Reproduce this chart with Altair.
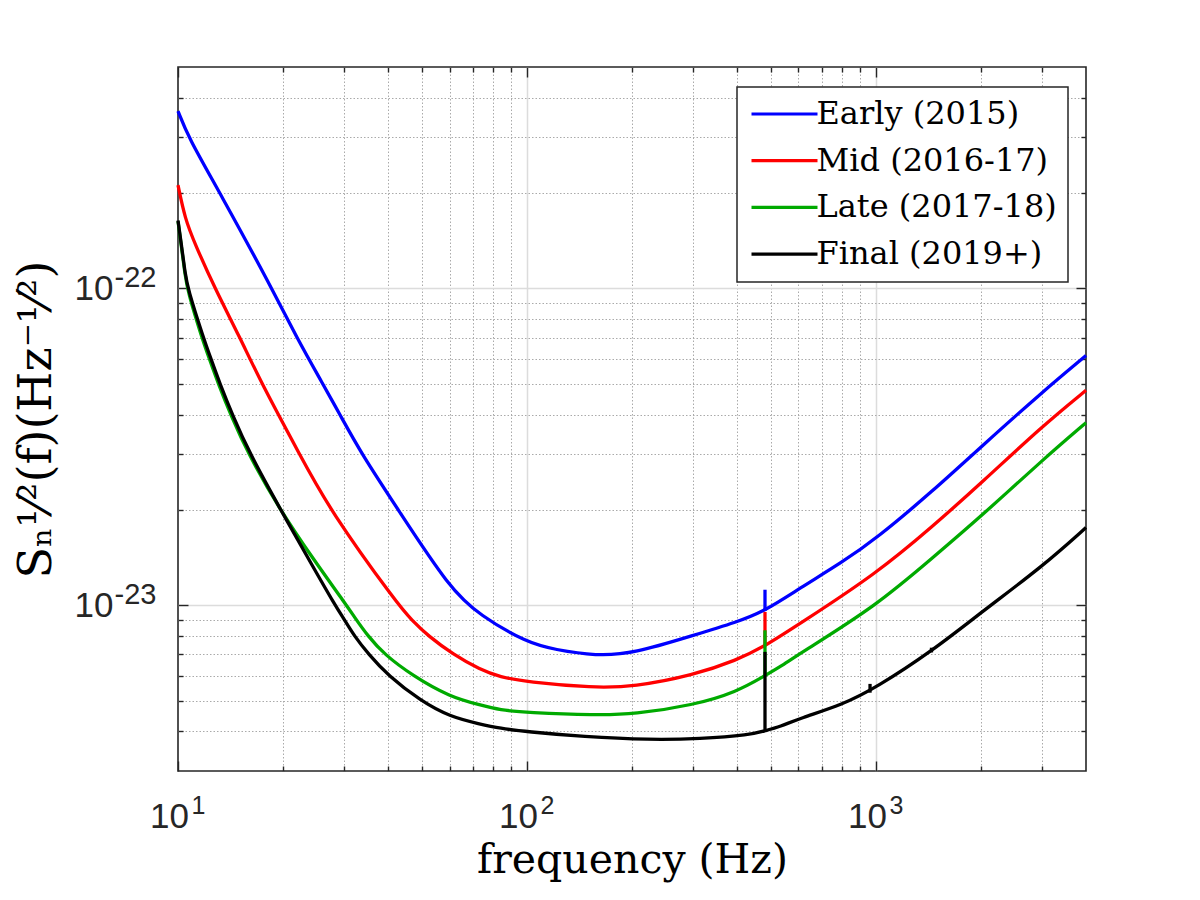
import math
import altair as alt
import pandas as pd

series_names = ["Early (2015)", "Mid (2016-17)", "Late (2017-18)", "Final (2019+)"]
series_colors = ["#0000FF", "#FF0000", "#00AA00", "#000000"]

early_f = [10, 10.7, 13.2, 18.6, 21.86, 26.0, 29.1, 33.6, 42.8, 60.1, 73.3, 100, 120, 158, 202,
           300, 399, 481, 605, 800, 1000, 1459, 2010, 3017, 4000]
early_s = [3.63e-22, 3.0e-22, 2.0e-22, 1.0e-22, 7.0e-23, 5.0e-23, 4.0e-23, 3.0e-23, 2.0e-23, 1.13e-23,
           9.29e-24, 7.62e-24, 7.25e-24, 6.92e-24, 7.04e-24,
           8.04e-24, 8.85e-24, 9.6e-24, 1.132e-23, 1.367e-23, 1.62e-23, 2.30e-23, 3.18e-23, 4.74e-23, 6.14e-23]

mid_f = [10, 10.47, 11.19, 12.76, 15.05, 17.37, 22.3, 27.2, 42.8, 46.7, 52.1, 61.5, 73.3, 83.7, 100,
         155, 202, 300, 399, 481, 605, 1000, 1459, 2010, 3017, 4000]
mid_s = [2.12e-22, 1.66e-22, 1.38e-22, 1.0e-22, 7.0e-23, 5.0e-23, 3.0e-23, 2.0e-23, 1.0e-23, 9.0e-24,
         8.0e-24, 7.0e-24, 6.27e-24, 5.94e-24, 5.73e-24,
         5.49e-24, 5.53e-24, 6.02e-24, 6.71e-24, 7.43e-24, 8.75e-24, 1.256e-23, 1.78e-23, 2.44e-23, 3.70e-23,
         4.77e-23]

late_f = [10, 10.25, 10.47, 10.66, 11.7, 12.3, 13.05, 14.15, 15.9, 19.6, 24.4, 30.4, 32.0, 35.0, 39.0, 47.0,
          60.1, 73.3, 83.7, 100, 158, 202, 300, 399, 481, 531, 605, 1000, 1459, 2010, 3017, 4000]
late_s = [1.63e-22, 1.33e-22, 1.11e-22, 0.98e-22, 7.0e-23, 6.0e-23, 5.0e-23, 4.0e-23, 3.0e-23, 2.0e-23,
          1.40e-23, 1.0e-23, 9.2e-24, 8.0e-24, 7.0e-24, 6.0e-24,
          5.14e-24, 4.85e-24, 4.67e-24, 4.59e-24, 4.50e-24, 4.53e-24, 4.84e-24, 5.33e-24, 6.0e-24, 6.39e-24,
          7.04e-24, 9.94e-24, 1.417e-23, 1.916e-23, 2.89e-23, 3.77e-23]

final_f = [10, 10.25, 10.47, 10.66, 11.82, 12.43, 13.19, 14.31, 16.08, 19.6, 24.4, 28.2, 30.0, 32.0, 35.2, 40.0,
           49.5, 60.1, 73.3, 83.7, 100, 145, 225, 313, 436, 481, 531, 605, 800, 1000, 1459, 2010, 3017, 4000]
final_s = [1.64e-22, 1.35e-22, 1.127e-22, 1.0e-22, 7.0e-23, 6.0e-23, 5.0e-23, 4.0e-23, 3.0e-23, 2.02e-23,
           1.32e-23, 1.0e-23, 9.0e-24, 8.0e-24, 7.0e-24, 6.0e-24,
           5.0e-24, 4.45e-24, 4.22e-24, 4.09e-24, 3.99e-24, 3.85e-24, 3.76e-24, 3.79e-24, 3.90e-24, 4.02e-24,
           4.14e-24, 4.40e-24, 4.85e-24, 5.49e-24, 7.21e-24, 9.53e-24, 1.333e-23, 1.76e-23]

# narrow spectral lines (violin mode and harmonics)
spike_series = ["Early (2015)", "Mid (2016-17)", "Late (2017-18)", "Final (2019+)", "Final (2019+)",
                "Final (2019+)"]
spike_f = [481, 481, 481, 481, 962, 1443]
spike_lo = [9.6e-24, 7.43e-24, 6.0e-24, 4.02e-24, 5.3e-24, 7.1e-24]
spike_hi = [1.12e-23, 9.53e-24, 8.34e-24, 7.13e-24, 5.65e-24, 7.35e-24]

x_major = [10, 100, 1000]
x_major_base = ["10", "10", "10"]
x_major_exp = ["1", "2", "3"]
x_minor = [20, 30, 40, 50, 60, 70, 80, 90, 200, 300, 400, 500, 600, 700, 800, 900, 2000, 3000]
y_major = [1e-23, 1e-22]
y_major_base = ["10", "10"]
y_major_exp = ["-23", "-22"]
y_minor = [4e-24, 5e-24, 6e-24, 7e-24, 8e-24, 9e-24,
           2e-23, 3e-23, 4e-23, 5e-23, 6e-23, 7e-23, 8e-23, 9e-23,
           2e-22, 3e-22, 4e-22]

rows = []
for name, fs, ss in zip(series_names, [early_f, mid_f, late_f, final_f], [early_s, mid_s, late_s, final_s]):
    for i, (f, s) in enumerate(zip(fs, ss)):
        rows.append({"series": name, "f": f, "S": s, "order": i})
df = pd.DataFrame(rows)

color_of = dict(zip(series_names, series_colors))
spikes = pd.DataFrame({
    "series": spike_series, "f": spike_f, "lo": spike_lo, "hi": spike_hi,
    "c": [color_of[s] for s in spike_series],
})


def label_expr(vals, labels):
    expr = "''"
    for v, lab in zip(vals, labels):
        e = round(math.log10(v))
        expr = f"abs(log(datum.value)/LN10 - ({e})) < 0.001 ? '{lab}' : " + expr
    return expr


minor_test = "abs(log(datum.value)/LN10 - round(log(datum.value)/LN10)) > 0.001"
x_edge_test = "datum.value <= 10.0001 || datum.value >= 3999"

x_scale = alt.Scale(type="log", domain=[10, 4000], nice=False)
y_scale = alt.Scale(type="log", domain=[3e-24, 5e-22], nice=False)

AX = "#262626"
LABEL_FONT = "Liberation Sans"
grid_common = dict(
    grid=True,
    gridDash={"condition": {"test": minor_test, "value": [1.5, 2.0]}, "value": []},
    gridColor={"condition": {"test": minor_test, "value": "#aaaaaa"}, "value": "#dcdcdc"},
    gridWidth={"condition": {"test": minor_test, "value": 1.0}, "value": 1.5},
)

x_axis_main = alt.Axis(
    values=x_major + x_minor, labelExpr=label_expr(x_major, x_major_base),
    ticks=False, tickSize=0, domain=False, labelPadding=28, labelOffset=-9, labelFlush=False,
    labelOverlap=False, labelFont=LABEL_FONT, labelFontSize=35, labelColor=AX,
    title="frequency (Hz)", titleFont="DejaVu Serif", titleFontSize=41, titleFontWeight="normal",
    titleColor="black", titlePadding=6,
    gridOpacity={"condition": {"test": x_edge_test, "value": 0}, "value": 1},
    **grid_common,
)
y_axis_main = alt.Axis(
    values=y_major + y_minor, labelExpr=label_expr(y_major, y_major_base),
    ticks=False, tickSize=0, domain=False, labelPadding=65, labelOverlap=False,
    labelFont=LABEL_FONT, labelFontSize=35, labelColor=AX,
    title="S\u2099\u00b9\u2044\u00b2(f)(Hz\u207b\u00b9\u2044\u00b2)", titleFont="DejaVu Serif",
    titleFontSize=46, titleFontWeight="normal", titleColor="black", titlePadding=14,
    **grid_common,
)

legend = alt.Legend(
    title=None, orient="none", legendX=559, legendY=20,
    labelFont="DejaVu Serif", labelFontSize=32, labelColor="black", labelLimit=400,
    symbolType="M-3,0L3,0", symbolSize=484, symbolStrokeWidth=3.2, symbolOffset=20.5,
    labelOffset=16, rowPadding=14.7, padding=11,
    strokeColor=AX, fillColor="white",
)

lines = alt.Chart(df).mark_line(strokeWidth=3.3, interpolate="basis").encode(
    x=alt.X("f:Q", scale=x_scale, axis=x_axis_main),
    y=alt.Y("S:Q", scale=y_scale, axis=y_axis_main),
    color=alt.Color("series:N", scale=alt.Scale(domain=series_names, range=series_colors), legend=legend),
    order="order:Q",
    detail="series:N",
)

spike_rules = alt.Chart(spikes).mark_rule(strokeWidth=3.3).encode(
    x=alt.X("f:Q", scale=x_scale, axis=None),
    y=alt.Y("lo:Q", scale=y_scale, axis=None),
    y2="hi:Q",
    color=alt.Color("c:N", scale=None),
)

# exponent labels (superscripts) of the decade tick labels
exp_layer = alt.Chart(df).mark_point(opacity=0).encode(
    x=alt.X("f:Q", scale=x_scale, axis=alt.Axis(
        orient="bottom", values=x_major, labelExpr=label_expr(x_major, x_major_exp),
        ticks=False, tickSize=0, domain=False, grid=False, title=None, labelFlush=False, labelOverlap=False,
        labelAlign="left", labelOffset=13, labelPadding=22, labelFont=LABEL_FONT, labelFontSize=25,
        labelColor=AX)),
    y=alt.Y("S:Q", scale=y_scale, axis=alt.Axis(
        orient="left", values=y_major, labelExpr=label_expr(y_major, y_major_exp),
        ticks=False, tickSize=0, domain=False, grid=False, title=None, labelOverlap=False,
        labelAlign="left", labelPadding=64, labelOffset=-11, labelFont=LABEL_FONT, labelFontSize=29,
        labelColor=AX)),
)


def tick_layer(xorient, yorient, xvals, yvals, size):
    xa = alt.Axis(orient=xorient, values=xvals, offset=-size, tickSize=size, labels=False, domain=False,
                  grid=False, title=None, tickColor=AX, tickWidth=1.4)
    ya = alt.Axis(orient=yorient, values=yvals, offset=-size, tickSize=size, labels=False, domain=False,
                  grid=False, title=None, tickColor=AX, tickWidth=1.4)
    return alt.Chart(df).mark_point(opacity=0).encode(
        x=alt.X("f:Q", scale=x_scale, axis=xa),
        y=alt.Y("S:Q", scale=y_scale, axis=ya),
    )


chart = alt.layer(
    lines,
    spike_rules,
    exp_layer,
    tick_layer("bottom", "left", x_major, y_major, 10),
    tick_layer("bottom", "left", x_minor, y_minor, 5),
    tick_layer("top", "right", x_major, y_major, 10),
    tick_layer("top", "right", x_minor, y_minor, 5),
).resolve_scale(x="shared", y="shared").resolve_axis(x="independent", y="independent").properties(
    width=908, height=704,
    autosize=alt.AutoSizeParams(type="none"),
    padding={"left": 170, "top": 59, "right": 106, "bottom": 121},
    background="white",
).configure_view(stroke=AX, strokeWidth=1.6).configure_legend(strokeWidth=1.5)

chart.save("out.html", embed_options={"renderer": "svg", "actions": False})
